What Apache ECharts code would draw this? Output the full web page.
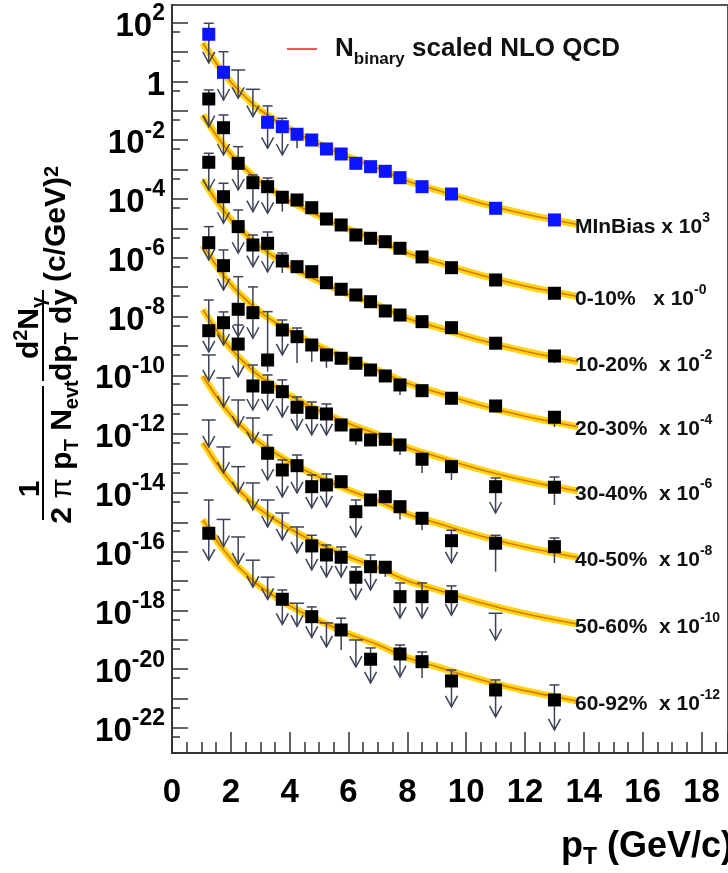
<!DOCTYPE html>
<html>
<head>
<meta charset="utf-8">
<script src="https://cdn.jsdelivr.net/npm/echarts@6/dist/echarts.min.js"></script>
<style>
  html, body { margin: 0; padding: 0; background: #fff; }
  #chart { width: 728px; height: 873px; }
</style>
</head>
<body>
<div id="chart"></div>
<script>
// Direct-photon invariant yields vs pT, per centrality class, with
// N_binary-scaled NLO pQCD curves. Values are in (c/GeV)^2, already
// multiplied by the per-class scale factor shown in the labels.

// pT grid of the NLO curves (GeV/c)
const nloPt = [1.05, 1.25, 1.5, 1.75, 2.0, 2.25, 2.5, 2.75, 3.0, 3.5, 4.0, 4.5, 5.0, 6.0, 7.0, 8.0, 9.0, 10.0, 11.0, 12.0, 13.0, 13.8];

const nloMinBias = [20.4, 10.1, 4.26, 1.95, 0.959, 0.513, 0.296, 0.171, 0.107, 4.89e-2, 2.42e-2, 1.29e-2, 7.46e-3, 2.69e-3, 1.14e-3, 4.11e-4, 2.03e-4, 1.00e-4, 5.36e-5, 3.10e-5, 1.94e-5, 1.36e-5];
const nlo0010 = [7.23e-2, 3.57e-2, 1.51e-2, 6.90e-3, 3.40e-3, 1.82e-3, 1.05e-3, 6.08e-4, 3.80e-4, 1.73e-4, 8.57e-5, 4.58e-5, 2.65e-5, 9.55e-6, 4.04e-6, 1.46e-6, 7.21e-7, 3.56e-7, 1.90e-7, 1.10e-7, 6.87e-8, 4.83e-8];
const nlo1020 = [4.36e-4, 2.15e-4, 9.10e-5, 4.16e-5, 2.05e-5, 1.10e-5, 6.34e-6, 3.66e-6, 2.29e-6, 1.04e-6, 5.16e-7, 2.76e-7, 1.60e-7, 5.75e-8, 2.43e-8, 8.79e-9, 4.35e-9, 2.15e-9, 1.15e-9, 6.62e-10, 4.14e-10, 2.91e-10];
const nlo2030 = [2.69e-6, 1.33e-6, 5.61e-7, 2.56e-7, 1.26e-7, 6.76e-8, 3.91e-8, 2.26e-8, 1.41e-8, 6.44e-9, 3.18e-9, 1.70e-9, 9.84e-10, 3.55e-10, 1.50e-10, 5.42e-11, 2.68e-11, 1.32e-11, 7.06e-12, 4.08e-12, 2.55e-12, 1.79e-12];
const nlo3040 = [1.73e-8, 8.57e-9, 3.62e-9, 1.66e-9, 8.17e-10, 4.37e-10, 2.52e-10, 1.46e-10, 9.12e-11, 4.16e-11, 2.06e-11, 1.10e-11, 6.35e-12, 2.29e-12, 9.68e-13, 3.50e-13, 1.73e-13, 8.55e-14, 4.56e-14, 2.64e-14, 1.65e-14, 1.16e-14];
const nlo4050 = [9.53e-11, 4.71e-11, 1.99e-11, 9.10e-12, 4.49e-12, 2.40e-12, 1.39e-12, 8.02e-13, 5.01e-13, 2.29e-13, 1.13e-13, 6.04e-14, 3.49e-14, 1.26e-14, 5.32e-15, 1.92e-15, 9.51e-16, 4.70e-16, 2.51e-16, 1.45e-16, 9.06e-17, 6.37e-17];
const nlo5060 = [5.12e-13, 2.53e-13, 1.07e-13, 4.89e-14, 2.41e-14, 1.29e-14, 7.45e-15, 4.31e-15, 2.69e-15, 1.23e-15, 6.07e-16, 3.24e-16, 1.87e-16, 6.76e-17, 2.86e-17, 1.03e-17, 5.11e-18, 2.52e-18, 1.35e-18, 7.78e-19, 4.86e-19, 3.42e-19];
const nlo6092 = [1.23e-15, 6.07e-16, 2.56e-16, 1.17e-16, 5.78e-17, 3.09e-17, 1.79e-17, 1.03e-17, 6.46e-18, 2.94e-18, 1.46e-18, 7.78e-19, 4.50e-19, 1.62e-19, 6.85e-20, 2.48e-20, 1.22e-20, 6.05e-21, 3.23e-21, 1.87e-21, 1.17e-21, 8.20e-22];

// Measured points: [pT, value (null = upper limit only), upper end, lower end, lower end is an arrow]
const ptsMinBias = [
  [1.25, 40.3, 95.5, 4.26, 1], [1.75, 2.05, 10.3, 0.234, 1], [2.25, null, 2.46, 0.268, 1],
  [2.75, null, 0.542, 0.0634, 1], [3.25, 0.0408, 0.147, 5.32e-3, 1], [3.75, 0.0289, 0.0558, 3.15e-3, 1],
  [4.25, 0.0160, 0.0223, 5.32e-3, 0], [4.75, 0.0102, null, null, 0], [5.25, 5.05e-3, null, null, 0],
  [5.75, 3.41e-3, null, null, 0], [6.25, 1.64e-3, null, null, 0], [6.75, 1.26e-3, null, null, 0],
  [7.25, 8.79e-4, null, null, 0], [7.75, 5.32e-4, null, null, 0], [8.5, 2.63e-4, null, null, 0],
  [9.5, 1.48e-4, null, null, 0], [11, 4.84e-5, null, null, 0], [13, 1.94e-5, null, null, 0]
];
const pts0010 = [
  [1.25, 0.254, 0.513, 0.0289, 1], [1.75, 0.0267, 0.0724, 3.15e-3, 1], [2.25, 1.64e-3, 6.04e-3, 2.03e-4, 1],
  [2.75, 3.60e-4, 6.58e-4, 3.71e-5, 1], [3.25, 2.63e-4, 5.20e-4, 3.27e-5, 1], [3.75, 1.15e-4, 1.73e-4, 3.71e-5, 0],
  [4.25, 9.27e-5, null, null, 0], [4.75, 5.07e-5, null, null, 0], [5.25, 2.09e-5, null, null, 0],
  [5.75, 1.31e-5, null, null, 0], [6.25, 5.97e-6, null, null, 0], [6.75, 4.61e-6, null, null, 0],
  [7.25, 3.53e-6, null, null, 0], [7.75, 2.11e-6, null, null, 0], [8.5, 1.07e-6, null, null, 0],
  [9.5, 4.61e-7, null, null, 0], [11, 1.76e-7, null, null, 0], [13, 6.21e-8, null, 3.97e-8, 0]
];
const pts1020 = [
  [1.25, 1.78e-3, 3.60e-3, 2.03e-4, 1], [1.75, 1.20e-4, 3.44e-4, 1.50e-5, 1], [2.25, 1.15e-5, 4.24e-5, 1.43e-6, 1],
  [2.75, 2.73e-6, 5.97e-6, 4.99e-7, 1], [3.25, 3.12e-6, 7.55e-6, 3.29e-7, 1], [3.75, 7.80e-7, 1.46e-6, 3.05e-7, 0],
  [4.25, 4.99e-7, null, null, 0], [4.75, 3.37e-7, null, null, 0], [5.25, 1.42e-7, null, null, 0],
  [5.75, 8.49e-8, null, null, 0], [6.25, 5.43e-8, null, null, 0], [6.75, 3.21e-8, null, null, 0],
  [7.25, 1.55e-8, null, null, 0], [7.75, 1.13e-8, null, null, 0], [8.5, 6.71e-9, null, null, 0],
  [9.5, 4.19e-9, null, null, 0], [11, 1.24e-9, null, null, 0], [13, 4.56e-10, null, 2.6e-10, 0]
];
const pts2030 = [
  [1.25, 3.27e-6, 1.15e-5, 8.43e-7, 1], [1.75, 5.40e-7, 1.85e-6, 8.04e-8, 1], [2.25, 1.77e-8, 2.28e-7, 2.07e-9, 1],
  [2.75, 1.36e-8, 1.02e-7, 1.83e-9, 1], [3.25, 3.33e-10, 1.47e-8, 1.33e-10, 0], [3.75, 3.50e-9, 7.66e-9, 4.94e-10, 1],
  [4.25, 2.07e-9, 4.09e-9, 2.64e-10, 0], [4.75, 1.08e-9, null, 2.85e-10, 0], [5.25, 4.94e-10, null, 1.8e-10, 0],
  [5.75, 3.81e-10, null, null, 0], [6.25, 2.58e-10, null, null, 0], [6.75, 1.52e-10, null, null, 0],
  [7.25, 9.53e-11, null, null, 0], [7.75, 4.71e-11, null, 2.15e-11, 0], [8.5, 3.01e-11, null, null, 0],
  [9.5, 1.66e-11, null, null, 0], [11, 9.08e-12, null, null, 0], [13, 3.75e-12, null, 1.75e-12, 0]
];
const pts3040 = [
  [1.25, 3.31e-9, 3.67e-8, 6.25e-10, 1], [1.75, 6.19e-9, 1.44e-8, 1.08e-9, 1], [2.25, 1.16e-9, 5.18e-9, 9.02e-11, 1],
  [2.75, 4.36e-11, 2.25e-10, 6.62e-12, 1], [3.25, 3.94e-11, 1.03e-10, 6.62e-12, 1], [3.75, 2.79e-11, 7.01e-11, 3.84e-12, 1],
  [4.25, 8.20e-12, 1.84e-11, 1.39e-12, 1], [4.75, 5.37e-12, 1.24e-11, 9.38e-13, 1], [5.25, 4.85e-12, 1.06e-11, 9.38e-13, 1],
  [5.75, 2.05e-12, null, null, 0], [6.25, 9.38e-13, null, 4.29e-13, 0], [6.75, 6.34e-13, null, null, 0],
  [7.25, 6.68e-13, null, null, 0], [7.75, 4.29e-13, null, 1.95e-13, 0], [8.5, 1.40e-13, null, 4.76e-14, 0],
  [9.5, 7.82e-14, null, 2.75e-14, 0], [11, 1.63e-14, 3.22e-14, 2.07e-15, 1], [13, 1.56e-14, 3.48e-14, 3.89e-15, 0]
];
const pts4050 = [
  [1.25, null, 4.94e-10, 6.44e-11, 1], [1.75, null, 8.15e-11, 8.39e-12, 1], [2.25, null, 1.45e-11, 1.75e-12, 1],
  [2.75, null, 3.55e-12, 5.00e-13, 1], [3.25, 2.23e-13, 9.38e-13, 2.75e-14, 1], [3.75, 6.04e-14, 1.32e-13, 7.28e-15, 1],
  [4.25, 8.45e-14, 1.95e-13, 9.95e-15, 1], [4.75, 1.63e-14, 4.07e-14, 3.08e-15, 1], [5.25, 1.86e-14, 4.41e-14, 3.33e-15, 1],
  [5.75, 2.41e-14, null, null, 0], [6.25, 2.30e-15, 5.75e-15, 3.17e-16, 1], [6.75, 5.75e-15, null, null, 0],
  [7.25, 7.45e-15, null, null, 0], [7.75, 3.40e-15, null, 1.25e-15, 0], [8.5, 1.37e-15, null, 5.36e-16, 0],
  [9.5, 2.37e-16, 5.36e-16, 4.13e-17, 1], [11, 1.94e-16, 3.62e-16, 2.09e-17, 0], [13, 1.48e-16, 2.93e-16, 4.13e-17, 0]
];
const pts5060 = [
  [1.25, null, 3.03e-12, 3.66e-13, 1], [1.75, null, 3.66e-13, 4.76e-14, 1], [2.25, null, 7.82e-14, 9.95e-15, 1],
  [2.75, null, 2.18e-14, 2.62e-15, 1], [3.25, null, 5.75e-15, 6.93e-16, 1], [3.75, null, 2.07e-15, 2.51e-16, 1],
  [4.25, null, 6.93e-16, 9.04e-17, 1], [4.75, 1.57e-16, 3.62e-16, 2.39e-17, 1], [5.25, 7.74e-17, 1.69e-16, 1.38e-17, 1],
  [5.75, 6.46e-17, 1.45e-16, 1.38e-17, 1], [6.25, 1.35e-17, 3.02e-17, 2.37e-18, 1], [6.75, 3.09e-17, 7.74e-17, 4.99e-18, 1],
  [7.25, 2.95e-17, null, 1.38e-17, 0], [7.75, 2.95e-18, 8.63e-18, 5.47e-19, 1], [8.5, 2.95e-18, 8.63e-18, 5.47e-19, 1],
  [9.5, 2.95e-18, 6.82e-18, 6.92e-19, 1], [11, null, 8.04e-19, 9.89e-20, 1]
];
const pts6092 = [
  [1.25, 4.24e-16, 5.75e-15, 5.14e-17, 1], [1.75, null, 1.25e-15, 1.50e-16, 1], [2.25, null, 3.17e-16, 3.82e-17, 1],
  [2.75, null, 5.14e-17, 6.21e-18, 1], [3.25, null, 1.36e-17, 2.37e-18, 1], [3.75, 2.40e-18, 4.99e-18, 3.37e-19, 1],
  [4.25, null, 1.76e-18, 2.88e-19, 1], [4.75, 6.15e-19, 1.32e-18, 1.21e-19, 1], [5.25, null, 3.76e-19, 5.73e-20, 1],
  [5.75, 2.17e-19, 5.47e-19, 4.53e-20, 0], [6.25, null, 9.91e-20, 1.19e-20, 1], [6.75, 2.19e-20, 5.30e-20, 3.41e-21, 1],
  [7.75, 3.31e-20, 6.70e-20, 5.46e-21, 1], [8.5, 1.81e-20, 3.87e-20, 5.05e-21, 0], [9.5, 3.99e-21, 9.44e-21, 5.21e-22, 1],
  [11, 1.97e-21, 4.32e-21, 2.38e-22, 1], [13, 9.02e-22, 2.92e-21, 8.61e-23, 1]
];

// Class labels, gap before the scale factor, and the power of ten each class is scaled by
const classNames = ['MInBias', '0-10%', '10-20%', '20-30%', '30-40%', '40-50%', '50-60%', '60-92%'];
const classGaps = [' ', '   ', '  ', '  ', '  ', '  ', '  ', '  '];
const classScale = ['3', '-0', '-2', '-4', '-6', '-8', '-10', '-12'];
const classPoints = [ptsMinBias, pts0010, pts1020, pts2030, pts3040, pts4050, pts5060, pts6092];
const classCurves = [nloMinBias, nlo0010, nlo1020, nlo2030, nlo3040, nlo4050, nlo5060, nlo6092];
const classColors = ['#0a14ff', '#000', '#000', '#000', '#000', '#000', '#000', '#000'];

// Axis ticks, as powers of ten
const yLabelExp = [2, 0, -2, -4, -6, -8, -10, -12, -14, -16, -18, -20, -22];
const yDecadeExp = [2, 1, 0, -1, -2, -3, -4, -5, -6, -7, -8, -9, -10, -11, -12, -13, -14, -15, -16, -17, -18, -19, -20, -21, -22];
const yHalfExp = [1.699, 0.699, -0.301, -1.301, -2.301, -3.301, -4.301, -5.301, -6.301, -7.301, -8.301, -9.301, -10.301, -11.301, -12.301, -13.301, -14.301, -15.301, -16.301, -17.301, -18.301, -19.301, -20.301, -21.301, -22.301];
const yMinExp = -22.85;
const yMaxExp = 2.602;

const FONT = '"Liberation Sans", Arial, Helvetica, sans-serif';
const BAR = '#3c4356';
const lg = v => Math.log10(v);

function curveSeries(vals, i) {
  const data = nloPt.map((p, k) => [p, lg(vals[k])]);
  return [
    {
      type: 'line', name: 'nlo', data, symbol: 'none', smooth: true, z: 2, silent: true,
      lineStyle: { color: '#ffd414', width: 7 }
    },
    {
      type: 'line', name: 'nloCore', data, symbol: 'none', smooth: true, z: 3, silent: true,
      lineStyle: { color: '#db7a00', width: 1.6 },
      endLabel: {
        show: true, distance: -3,
        formatter: '{n|' + classNames[i] + classGaps[i] + 'x 10}{s|' + classScale[i] + '}',
        rich: {
          n: { fontFamily: FONT, fontWeight: 'bold', fontSize: 21, color: '#111', padding: [6, 0, 0, 0], verticalAlign: 'bottom' },
          s: { fontFamily: FONT, fontWeight: 'bold', fontSize: 14, color: '#111', verticalAlign: 'top' }
        }
      }
    }
  ];
}

function barSeries(rows) {
  return {
    type: 'custom', z: 4, silent: true,
    data: rows.filter(r => r[2] != null || r[3] != null).map(r => [
      r[0], lg(r[2] != null ? r[2] : r[1]), lg(r[3] != null ? r[3] : r[1]), r[4],
      r[2] != null ? 1 : 0, r[1] == null ? 1 : 0
    ]),
    encode: { x: 0, y: [1, 2] },
    renderItem(params, api) {
      const top = api.coord([api.value(0), api.value(1)]);
      const bot = api.coord([api.value(0), api.value(2)]);
      const x = top[0];
      const st = { stroke: BAR, lineWidth: 1.5, fill: null };
      const children = [{ type: 'line', shape: { x1: x, y1: top[1], x2: x, y2: bot[1] }, style: st }];
      if (api.value(4)) {
        const w = api.value(5) ? 7 : 5;
        children.push({ type: 'line', shape: { x1: x - w, y1: top[1], x2: x + w, y2: top[1] }, style: st });
      }
      if (api.value(3)) {
        children.push({ type: 'polyline', shape: { points: [[x - 6, bot[1] - 11], [x, bot[1]], [x + 6, bot[1] - 11]] }, style: st });
      }
      return { type: 'group', children };
    }
  };
}

function squareSeries(rows, color) {
  return {
    type: 'scatter', symbol: 'rect', symbolSize: 13, z: 5, silent: true,
    itemStyle: { color, opacity: 1 },
    data: rows.filter(r => r[1] != null).map(r => [r[0], lg(r[1])])
  };
}

const series = [];
classPoints.forEach((rows, i) => {
  series.push(...curveSeries(classCurves[i], i));
  series.push(barSeries(rows));
  series.push(squareSeries(rows, classColors[i]));
});

const tickLine = { color: '#333', width: 1.5 };
const supRich = {
  b: { fontFamily: FONT, fontWeight: 'bold', fontSize: 33, color: '#000', padding: [8, 0, 0, 0], verticalAlign: 'bottom' },
  s: { fontFamily: FONT, fontWeight: 'bold', fontSize: 23, color: '#000', verticalAlign: 'top' }
};

const titleRich = {
  n: { fontFamily: FONT, fontWeight: 'bold', fontSize: 30, fill: '#000', verticalAlign: 'middle' },
  pi: { fontFamily: FONT, fontSize: 30, fill: '#000', verticalAlign: 'middle' },
  sub: { fontFamily: FONT, fontWeight: 'bold', fontSize: 20, fill: '#000', verticalAlign: 'bottom', padding: [18, 0, 0, 0] },
  sup: { fontFamily: FONT, fontWeight: 'bold', fontSize: 20, fill: '#000', verticalAlign: 'top' }
};
const rot = Math.PI / 2;
function titleText(x, y, text) {
  return { type: 'text', x, y, rotation: rot, silent: true,
    style: { text, rich: titleRich, align: 'center', verticalAlign: 'middle', fill: '#000' } };
}

const chart = echarts.init(document.getElementById('chart'), null, { renderer: 'canvas' });
chart.setOption({
  animation: false,
  backgroundColor: '#fff',
  grid: { left: 172, top: 5, right: -3, bottom: 120, show: true, borderColor: '#555', borderWidth: 2, backgroundColor: 'transparent' },
  legend: {
    left: 287, top: 36, padding: 0, itemWidth: 30, itemHeight: 2, selectedMode: false,
    data: [{ name: 'nlo', icon: 'rect', itemStyle: { color: '#f05555' } }],
    formatter: () => '{g|}{n|N}{sub|binary}{n| scaled NLO QCD}',
    textStyle: {
      rich: {
        g: { width: 13 },
        n: { fontFamily: FONT, fontWeight: 'bold', fontSize: 26, color: '#111', verticalAlign: 'middle' },
        sub: { fontFamily: FONT, fontWeight: 'bold', fontSize: 17, color: '#111', verticalAlign: 'bottom', padding: [20, 0, 0, 0] }
      }
    }
  },
  xAxis: {
    type: 'value', min: 0, max: 18.9, interval: 2,
    axisLine: { onZero: false, lineStyle: { color: '#333', width: 2 } },
    axisTick: { inside: true, length: 21, lineStyle: tickLine },
    minorTick: { show: true, splitNumber: 4, length: 11, lineStyle: tickLine },
    splitLine: { show: false },
    axisLabel: { margin: 23, fontFamily: FONT, fontWeight: 'bold', fontSize: 33, color: '#000', showMaxLabel: false }
  },
  yAxis: [
    {
      type: 'value', min: yMinExp, max: yMaxExp,
      axisLine: { onZero: false, lineStyle: { color: '#333', width: 2 } },
      axisTick: { inside: true, length: 16, lineStyle: tickLine, customValues: yDecadeExp },
      splitLine: { show: false },
      axisLabel: {
        margin: 7, customValues: yLabelExp,
        formatter: v => (v === 0 ? '{b|1}' : '{b|10}{s|' + v + '}'),
        rich: supRich
      }
    },
    {
      type: 'value', min: yMinExp, max: yMaxExp, position: 'left', offset: 0,
      axisLine: { show: false, onZero: false },
      axisTick: { inside: true, length: 8, lineStyle: tickLine, customValues: yHalfExp },
      axisLabel: { show: false },
      splitLine: { show: false }
    }
  ],
  graphic: [
    titleText(31, 489, '{n|1}'),
    { type: 'line', silent: true, shape: { x1: 43, y1: 386, x2: 43, y2: 520 }, style: { stroke: '#000', lineWidth: 2 } },
    titleText(63, 452, '{n|2}{pi| π }{n|p}{sub|T}{n| N}{sub|evt}'),
    titleText(30, 328, '{n|d}{sup|2}{n|N}{sub|γ}'),
    { type: 'line', silent: true, shape: { x1: 43, y1: 290, x2: 43, y2: 381 }, style: { stroke: '#000', lineWidth: 2 } },
    titleText(63, 335, '{n|dp}{sub|T}{n| dy}'),
    titleText(57, 224, '{n|(c/GeV)}{sup|2}'),
    {
      type: 'text', x: 733, y: 847, silent: true,
      style: {
        text: '{n|p}{sub|T}{n| (GeV/c)}', align: 'right', verticalAlign: 'middle',
        rich: {
          n: { fontFamily: FONT, fontWeight: 'bold', fontSize: 36, fill: '#000', verticalAlign: 'middle' },
          sub: { fontFamily: FONT, fontWeight: 'bold', fontSize: 23, fill: '#000', verticalAlign: 'bottom', padding: [22, 0, 0, 0] }
        }
      }
    }
  ],
  series
});
</script>
</body>
</html>
